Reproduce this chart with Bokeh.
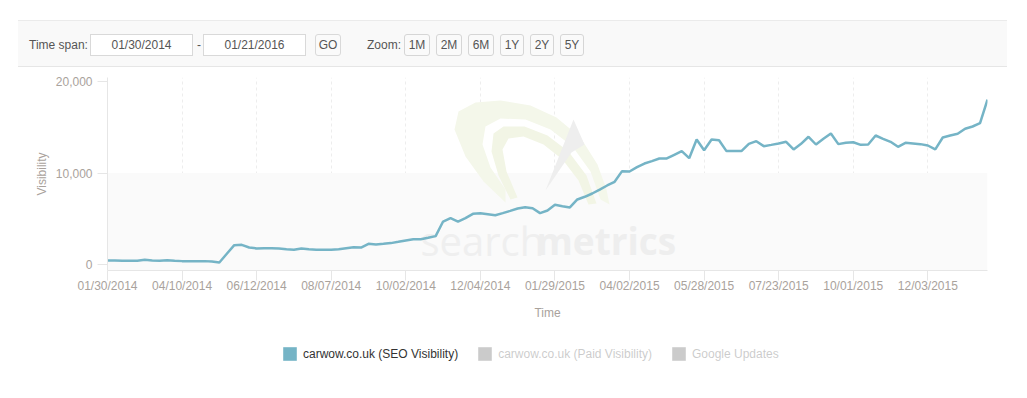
from bokeh.plotting import figure
from bokeh.models import (ColumnDataSource, FixedTicker, NumeralTickFormatter, Legend,
                          LegendItem, BoxAnnotation, Label, Div, Range1d, PolyAnnotation)
from bokeh.layouts import column
from bokeh.embed import file_html
from bokeh.resources import INLINE

# ---------------- data ----------------
seo_visibility = [
    490, 490, 455, 455, 455, 560, 490, 455, 525, 455,
    420, 420, 420, 420, 380, 270, 1220, 2160, 2190, 1900,
    1800, 1830, 1830, 1800, 1720, 1650, 1800, 1720, 1650, 1650,
    1650, 1720, 1830, 1940, 1900, 2300, 2230, 2300, 2380, 2520,
    2670, 2810, 2810, 2960, 3140, 4730, 5100, 4730, 5100, 5570,
    5640, 5530, 5420, 5640, 5890, 6150, 6290, 6180, 5640, 5930,
    6550, 6400, 6260, 7130, 7420, 7780, 8210, 8650, 9050, 10210,
    10170, 10640, 11040, 11300, 11590, 11590, 11990, 12390, 11620, 13650,
    12490, 13650, 13580, 12390, 12390, 12390, 13180, 13470, 12930, 13070,
    13220, 13400, 12570, 13180, 13950, 13110, 13730, 14310, 13150, 13290,
    13360, 13070, 13110, 14090, 13730, 13400, 12860, 13290, 13220, 13150,
    13000, 12570, 13870, 14090, 14270, 14820, 15070, 15430, 18000,
]
paid_visibility = []      # hidden series (greyed in legend)
google_updates = []       # hidden series (greyed in legend)

date_labels = ["01/30/2014", "04/10/2014", "06/12/2014", "08/07/2014", "10/02/2014",
               "12/04/2014", "01/29/2015", "04/02/2015", "05/28/2015", "07/23/2015",
               "10/01/2015", "12/03/2015"]
label_step = 10
y_ticks = [0, 10000, 20000]
series_names = ["carwow.co.uk (SEO Visibility)", "carwow.co.uk (Paid Visibility)", "Google Updates"]
span_start, span_end = "01/30/2014", "01/21/2016"
zoom_buttons = ["1M", "2M", "6M", "1Y", "2Y", "5Y"]

# ---------------- style ----------------
FONT = "Liberation Sans"
LINE_COLOR = "#75b4c6"
AXIS_TEXT = "#a9a29c"
LIGHT = "#e6e6e6"
W = 1011

x_idx = list(range(len(seo_visibility)))
src = ColumnDataSource(dict(x=x_idx, y=seo_visibility))

# ---------------- toolbar (HTML) ----------------
def box(left, width, text, extra=""):
    return (f'<div style="position:absolute;left:{left}px;top:13px;width:{width}px;height:22px;'
            f'box-sizing:border-box;background:#fff;border:1px solid #d9d9d9;text-align:center;'
            f'line-height:20px;{extra}">{text}</div>')

btn_lefts = [386, 418, 450, 482, 512, 542]
btn_widths = [26, 26, 26, 24, 24, 24]
buttons_html = "".join(
    box(l, w, t, "border-radius:3px;background:#fafafa;border-color:#d6d6d6;")
    for l, w, t in zip(btn_lefts, btn_widths, zoom_buttons))

toolbar_html = f'''
<div style="position:relative;width:{W}px;height:62px;font-family:'{FONT}',Arial,sans-serif;font-size:12px;color:#555;">
 <div style="position:absolute;left:13px;top:15px;width:989px;height:47px;box-sizing:border-box;background:#f9f9f9;border-top:1px solid #ebebeb;border-bottom:1px solid #e6e6e6;">
  <div style="position:absolute;left:11px;top:13px;line-height:22px;">Time span:</div>
  {box(72, 103, span_start)}
  <div style="position:absolute;left:179px;top:13px;line-height:22px;">-</div>
  {box(185, 103, span_end)}
  {box(297, 26, "GO", "border-radius:3px;background:#fafafa;")}
  <div style="position:absolute;left:349px;top:13px;line-height:22px;">Zoom:</div>
  {buttons_html}
 </div>
</div>
'''
toolbar = Div(text=toolbar_html, width=W, height=65)

# ---------------- chart ----------------
p = figure(width=W, height=255, output_backend="svg", toolbar_location=None,
           x_range=Range1d(0, len(seo_visibility) - 1), y_range=Range1d(-600, 20400),
           min_border_left=107, min_border_right=24, min_border_top=2, min_border_bottom=60)
p.outline_line_color = None
p.background_fill_color = "white"
p.border_fill_color = "white"

# alternate band (0 .. 10,000)
p.add_layout(BoxAnnotation(top=y_ticks[1], fill_color="#fafafa", fill_alpha=1.0,
                           line_color=None, level="underlay"))

# ---- watermark logo (screen px relative to the plot frame's bottom-left) ----
FL, FB = 107, 271   # frame left / bottom used to express the logo outline


def wm_poly(pts, color):
    xs = [x - FL for x, _ in pts]
    ys = [FB - y for _, y in pts]
    p.add_layout(PolyAnnotation(xs=xs, ys=ys, xs_units="screen", ys_units="screen",
                                fill_color=color, fill_alpha=1.0, line_color=None,
                                level="underlay"))


swoosh_outer = [(505, 203), (483, 182), (465, 157), (454, 130), (458, 112), (475, 103),
                (500, 101), (530, 106), (556, 118), (580, 138), (597, 165), (606, 190),
                (609, 205), (600, 200), (590, 172), (572, 147), (550, 130), (525, 120),
                (500, 119), (485, 127), (482, 145), (490, 168), (505, 190)]
swoosh_inner = [(510, 200), (498, 176), (491, 152), (493, 134), (503, 127), (524, 127),
                (547, 136), (568, 152), (586, 176), (596, 204), (588, 205), (578, 181),
                (562, 160), (543, 145), (523, 137), (508, 139), (502, 150), (506, 172),
                (517, 198)]
arrow = [(573, 120), (584, 145), (571, 153), (545, 191)]
wm_poly(swoosh_outer, "#f4f7ea")
wm_poly(swoosh_inner, "#f2f5e5")
wm_poly(arrow, "#eeeeee")

p.add_layout(Label(x=313, y=30, x_units="screen", y_units="screen", text="search",
                   text_font="Open Sans", text_font_size="40px",
                   text_color="#efefef", text_baseline="alphabetic", level="underlay"))
p.add_layout(Label(x=429, y=30, x_units="screen", y_units="screen", text="metrics",
                   text_font="Open Sans", text_font_size="37px", text_font_style="bold",
                   text_color="#eeeeee", text_baseline="alphabetic", level="underlay"))

x_ticks = [i * label_step for i in range(len(date_labels))]
xt = FixedTicker(ticks=x_ticks)
p.xaxis.ticker = xt
p.xaxis.major_label_overrides = {t: lab for t, lab in zip(x_ticks, date_labels)}
p.yaxis.ticker = FixedTicker(ticks=y_ticks)
p.yaxis.formatter = NumeralTickFormatter(format="0,0")

p.xgrid.ticker = xt
p.xgrid.grid_line_color = "#ededed"
p.xgrid.grid_line_dash = "3 3"
p.ygrid.grid_line_color = None

for ax in (p.xaxis[0], p.yaxis[0]):
    ax.axis_line_color = LIGHT
    ax.major_tick_line_color = LIGHT
    ax.major_tick_out = 10
    ax.major_tick_in = 0
    ax.minor_tick_line_color = None
    ax.major_label_text_font = FONT
    ax.major_label_text_font_size = "12px"
    ax.major_label_text_color = AXIS_TEXT
    ax.axis_label_text_font = FONT
    ax.axis_label_text_font_size = "12px"
    ax.axis_label_text_font_style = "normal"
    ax.axis_label_text_color = AXIS_TEXT

p.xaxis.axis_label = "Time"
p.xaxis.major_label_standoff = -2
p.xaxis.axis_label_standoff = 10
p.yaxis.axis_label = "Visibility"
p.yaxis.major_label_standoff = 5
p.yaxis.axis_label_standoff = 4

p.line("x", "y", source=src, line_color=LINE_COLOR, line_width=2.5)

# ---------------- legend (own strip) ----------------
lg = figure(width=W, height=59, output_backend="svg", toolbar_location=None,
            x_range=Range1d(0, 1), y_range=Range1d(0, 1),
            x_axis_location=None, y_axis_location=None,
            min_border=0, outline_line_color=None)
lg.grid.visible = False
key_src = ColumnDataSource(dict(x=[0.5], y=[0.5]))
key_seo = lg.rect("x", "y", source=key_src, width=0, height=0,
                  fill_color=LINE_COLOR, line_color=None)
key_paid = lg.rect("x", "y", source=key_src, width=0, height=0,
                   fill_color="#333333", line_color=None, visible=False)
key_upd = lg.rect("x", "y", source=key_src, width=0, height=0,
                  fill_color="#333333", line_color=None, visible=False)

legend = Legend(items=[LegendItem(label=series_names[0], renderers=[key_seo]),
                       LegendItem(label=series_names[1], renderers=[key_paid]),
                       LegendItem(label=series_names[2], renderers=[key_upd])],
                orientation="horizontal", location=(174, 27), click_policy="hide",
                border_line_color=None, background_fill_alpha=0,
                label_text_font=FONT, label_text_font_size="12px", label_text_color="#333333",
                glyph_width=17, glyph_height=17, label_standoff=5, spacing=18,
                padding=0, margin=0, inactive_fill_color="white", inactive_fill_alpha=0.75)
lg.add_layout(legend, "center")

layout = column(toolbar, p, lg)
open("out.html", "w").write(file_html(layout, INLINE))
